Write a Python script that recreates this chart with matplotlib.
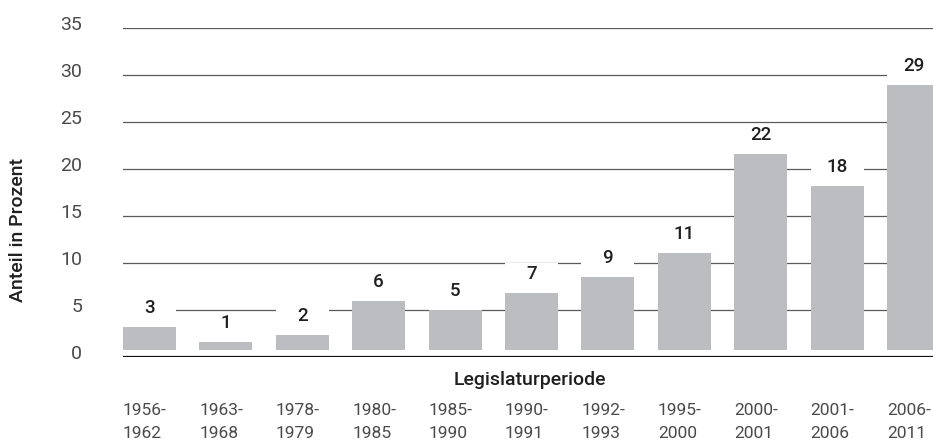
import numpy as np
import matplotlib
matplotlib.use('Agg')
from matplotlib import pyplot as plt
from matplotlib.transforms import ScaledTranslation

# Legislaturperioden and Anteil (Prozent)
periods = ['1956-\n1962', '1963-\n1968', '1978-\n1979', '1980-\n1985', '1985-\n1990',
           '1990-\n1991', '1992-\n1993', '1995-\n2000', '2000-\n2001', '2001-\n2006',
           '2006-\n2011']
values = [3, 1, 2, 6, 5, 7, 9, 11, 22, 18, 29]
# bar tops as drawn in the original
bar_tops = [3.19, 1.63, 2.34, 5.96, 5.0, 6.81, 8.54, 11.06, 21.6, 18.2, 28.9]
yticks = [0, 5, 10, 15, 20, 25, 30, 35]

plt.rcParams['font.family'] = ['Roboto', 'DejaVu Sans']

fig = plt.figure(figsize=(9.33, 4.41), dpi=100)
ax = fig.add_axes([123/933, 84/441, 810/933, 329/441])

x = np.arange(len(values))
w = 0.694
base = 0.72
bar_color = '#bcbdc0'

# grid
for t in yticks[1:]:
    ax.axhline(t, color='#5a5a5a', lw=0.9, zorder=1)
ax.axhline(0, color='#111111', lw=1.6, zorder=1)

heights = np.array(bar_tops) - base
ax.bar(x, heights, width=w, bottom=base, color=bar_color, zorder=2)
# white backing behind value labels (breaks the grid lines)
ax.bar(x, 3.2, width=w, bottom=bar_tops, color='white', zorder=2.5)

for xi, top, v in zip(x, bar_tops, values):
    ax.annotate(str(v), (xi, top), xytext=(0, 13.7), textcoords='offset points',
                ha='center', va='center', fontsize=13.5, fontweight='medium',
                color='#1f1f1f', zorder=3)

ax.set_xlim(-w/2, 10.255)
ax.set_ylim(0, 35)
for s in ax.spines.values():
    s.set_visible(False)

ax.set_yticks(yticks)
ax.set_yticklabels([str(t) for t in yticks], fontsize=14, color='#4a4a4a')
ax.tick_params(axis='y', length=0, pad=29.5)
up = ScaledTranslation(0, 5/100, fig.dpi_scale_trans)
for lab in ax.get_yticklabels():
    lab.set_transform(lab.get_transform() + up)

ax.set_xticks(x - w/2)
ax.set_xticklabels(periods, ha='left', fontsize=12.5,
                   color='#4a4a4a', linespacing=1.7)
ax.tick_params(axis='x', length=0, pad=33)

fig.text(530/933, 1 - 380/441, 'Legislaturperiode', ha='center', va='center',
         fontsize=14, fontweight='medium', color='#1f1f1f')
fig.text(18/933, 1 - 230/441, 'Anteil in Prozent', ha='center', va='center',
         rotation=90, fontsize=14, fontweight='medium', color='#1f1f1f')

fig.savefig('out.png', dpi=100)
